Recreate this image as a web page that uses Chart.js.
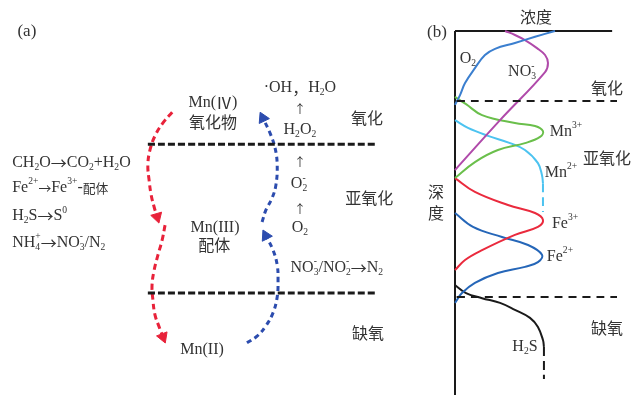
<!DOCTYPE html>
<html>
<head>
<meta charset="utf-8">
<script src="https://cdn.jsdelivr.net/npm/chart.js@4"></script>
<style>
  html, body { margin: 0; padding: 0; background: #fff; }
  #wrap { position: relative; width: 633px; height: 395px; }
  .panel { position: absolute; top: 0; height: 395px; }
  #panelA { left: 0; width: 420px; }
  #panelB { left: 420px; width: 213px; }
</style>
</head>
<body>
<div id="wrap">
  <div class="panel" id="panelA"><canvas id="chartA"></canvas></div>
  <div class="panel" id="panelB"><canvas id="chartB"></canvas></div>
</div>
<script>
// ---------- (a) 锰循环示意 (x: 0-100 横向, y: 0-100 向下) ----------
const boundaryOxic = [[35.2, 36.5], [89.8, 36.5]];
const boundaryAnoxic = [[35.2, 74.2], [89.8, 74.2]];
// Mn(IV) -> Mn(III) -> Mn(II)  还原
const reduceUpper = [[41.0,28.4],[38.8,31.1],[36.9,34.4],[35.7,38.0],[35.2,41.8],[35.5,45.6],[36.0,49.4],[36.7,52.4],[37.4,54.9]];
const reduceLower = [[39.3,57.0],[38.6,60.8],[37.6,64.6],[36.7,68.4],[36.2,72.2],[36.4,75.9],[36.9,79.7],[37.9,82.8],[38.8,85.3]];
// Mn(II) -> Mn(III) -> Mn(IV)  氧化
const oxidLower = [[58.8,86.8],[61.2,85.1],[63.3,82.5],[65.0,79.2],[66.0,75.2],[66.2,70.9],[66.0,67.1],[65.0,63.3],[63.3,59.7]];
const oxidUpper = [[62.4,56.2],[63.3,53.2],[64.8,50.1],[65.7,46.8],[66.0,41.8],[65.5,37.5],[64.3,33.7],[62.6,29.9]];

const labelsA = [
  { text: '(a)', x: 6.4, y: 8.1, size: 17 },
  { text: 'CH_2O→CO_2+H_2O', x: 2.9, y: 41.3, align: 'left', size: 16 },
  { text: 'Fe^{2+}→Fe^{3+}-配体', x: 2.9, y: 47.6, align: 'left', size: 16, cjkScale: 0.8 },
  { text: 'H_2S→S^0', x: 2.9, y: 54.7, align: 'left', size: 16 },
  { text: 'NH_4^+→NO_3^-/N_2', x: 2.9, y: 61.5, align: 'left', size: 16 },
  { text: 'Mn(Ⅳ)', x: 50.7, y: 26.0 },
  { text: '氧化物', x: 50.7, y: 30.9 },
  { text: '·OH，H_2O', x: 71.4, y: 22.3 },
  { text: '↑', x: 71.4, y: 27.6, size: 12 },
  { text: 'H_2O_2', x: 71.4, y: 32.9 },
  { text: '↑', x: 71.4, y: 41.0, size: 12 },
  { text: 'O_2^-', x: 71.2, y: 46.6 },
  { text: '↑', x: 71.4, y: 52.9, size: 12 },
  { text: 'O_2', x: 71.4, y: 57.7 },
  { text: 'NO_3^-/NO_2^-→N_2', x: 80.2, y: 67.8 },
  { text: '氧化', x: 87.4, y: 29.9 },
  { text: '亚氧化', x: 87.9, y: 50.1 },
  { text: '缺氧', x: 87.6, y: 84.3 },
  { text: 'Mn(III)', x: 51.2, y: 57.7 },
  { text: '配体', x: 51.0, y: 62.0 },
  { text: 'Mn(II)', x: 48.1, y: 88.6 }
];

// ---------- (b) 浓度-深度剖面 (x: 浓度 0-100, y: 深度 0-100) ----------
const axisTop = [[0, 0], [97, 0]];
const axisLeft = [[0, 0], [0, 100]];
const zoneOxic = [[1, 19.2], [100, 19.2]];
const zoneAnoxic = [[1, 73.1], [100, 73.1]];
const o2Profile = [[0,20.3],[3.1,17.6],[6.2,14.3],[12.3,10.2],[18.5,6.6],[24.7,4.9],[37.0,3.3],[49.4,1.6],[61.7,0]];
const no3Profile = [[30.9,0],[37.0,1.1],[43.2,2.5],[50.6,4.7],[55.6,6.6],[57.4,8.8],[55.6,11.3],[27.8,24.5],[0,38.2]];
const mn3Profile = [[0,18.1],[6.8,20.1],[16.7,23.1],[37.0,25.3],[49.4,26.1],[54.3,27.5],[52.5,29.1],[43.2,30.8],[26.5,32.7],[12.3,36.0],[0,40.4]];
const mn2Profile = [[0,24.5],[8.0,26.6],[20.4,28.8],[34.0,30.8],[43.2,32.7],[51.2,36.3],[53.7,39.6],[54.3,41.8]];
const mn2Tail = [[54.3,41.8],[54.3,49.7]];
const fe3Profile = [[0,40.4],[12.3,44.2],[32.7,47.8],[49.4,50.0],[54.3,51.9],[51.2,53.8],[37.0,56.0],[16.7,60.2],[6.2,62.9],[0,65.7]];
const fe2Profile = [[0,50.0],[11.1,53.8],[29.0,56.6],[45.1,58.8],[53.7,61.5],[51.2,63.5],[43.2,64.8],[26.5,66.5],[12.3,69.2],[4.3,72.0],[0,74.7]];
const h2sProfile = [[0,69.8],[6.8,72.0],[16.7,73.4],[27.8,74.7],[37.0,76.6],[46.3,78.8],[51.2,81.3],[54.3,84.9],[54.9,86.8]];
const h2sTail = [[54.9,86.8],[54.9,95.6]];

const labelsB = [
  { text: '(b)', x: -11.1, y: 0.3, size: 17 },
  { text: '浓度', x: 50.0, y: -3.8 },
  { text: 'O_2', x: 8.0, y: 7.7 },
  { text: 'NO_3^-', x: 41.4, y: 11.3 },
  { text: '氧化', x: 93.8, y: 15.7 },
  { text: 'Mn^{3+}', x: 68.5, y: 27.7 },
  { text: '亚氧化', x: 93.8, y: 34.9 },
  { text: 'Mn^{2+}', x: 65.4, y: 39.0 },
  { text: '深', x: -11.7, y: 44.2 },
  { text: '度', x: -11.7, y: 50.0 },
  { text: 'Fe^{3+}', x: 67.9, y: 53.0 },
  { text: 'Fe^{2+}', x: 64.8, y: 62.1 },
  { text: '缺氧', x: 93.8, y: 81.6 },
  { text: 'H_2S', x: 43.2, y: 86.8 }
];

const textColor = '#333333';
const latinFont = '"Liberation Serif", "Times New Roman", serif';
const cjkFont = '"Noto Sans CJK SC", sans-serif';
// 中文、全角符号、罗马数字和箭头用 CJK 字体
const cjkRe = /[\u2160-\u217f\u2190-\u21ff\u3000-\u9fff\uff00-\uffef]/;

// 解析 _x / _{..} 下标 和 ^x / ^{..} 上标
function parseRich(str) {
  const segs = [];
  let i = 0;
  while (i < str.length) {
    const c = str[i];
    if (c === '_' || c === '^') {
      let t;
      if (str[i + 1] === '{') {
        const j = str.indexOf('}', i);
        t = str.slice(i + 2, j);
        i = j + 1;
      } else {
        t = str[i + 1];
        i += 2;
      }
      segs.push({ t, mode: c === '_' ? 'sub' : 'sup' });
    } else {
      let j = i;
      while (j < str.length && str[j] !== '_' && str[j] !== '^') j++;
      segs.push({ t: str.slice(i, j), mode: 'n' });
      i = j;
    }
  }
  return segs;
}

function splitRuns(t) {
  const runs = [];
  for (const ch of t) {
    const cjk = cjkRe.test(ch);
    if (runs.length && runs[runs.length - 1].cjk === cjk) runs[runs.length - 1].t += ch;
    else runs.push({ t: ch, cjk });
  }
  return runs;
}

function layoutRich(ctx, segs, size, cjkScale) {
  const items = [];
  let x = 0;
  let prev = null;
  segs.forEach(s => {
    const fs = s.mode === 'n' ? size : size * 0.6;
    const dy = s.mode === 'sub' ? size * 0.3 : s.mode === 'sup' ? -size * 0.38 : 0;
    // 上下标叠放
    const stacked = prev && prev.mode !== 'n' && s.mode !== 'n' && prev.mode !== s.mode;
    const startX = stacked ? prev.x0 : x;
    let cx = startX;
    splitRuns(s.t).forEach(r => {
      const font = r.cjk ? `${fs * cjkScale}px ${cjkFont}` : `${fs}px ${latinFont}`;
      ctx.font = font;
      items.push({ t: r.t, font, x: cx, dy });
      cx += ctx.measureText(r.t).width;
    });
    x = stacked ? Math.max(x, cx) : cx;
    prev = { mode: s.mode, x0: startX };
  });
  return { items, width: x };
}

function makeLabelPlugin(labels) {
  return {
    id: 'richLabels',
    afterDatasetsDraw(chart) {
      const { ctx, scales: { x, y } } = chart;
      ctx.save();
      ctx.fillStyle = textColor;
      ctx.textBaseline = 'middle';
      ctx.textAlign = 'left';
      labels.forEach(l => {
        const px = x.getPixelForValue(l.x);
        const py = y.getPixelForValue(l.y);
        const lay = layoutRich(ctx, parseRich(l.text), l.size || 16, l.cjkScale || 1);
        const ox = l.align === 'left' ? px : px - lay.width / 2;
        lay.items.forEach(it => {
          ctx.font = it.font;
          ctx.fillText(it.t, ox + it.x, py + it.dy);
        });
      });
      ctx.restore();
    }
  };
}

function curve(points, color, width, dash) {
  return {
    data: points.map(([x, y]) => ({ x, y })),
    showLine: true,
    borderColor: color,
    borderWidth: width,
    borderDash: dash || [],
    pointRadius: 0,
    pointHoverRadius: 0,
    tension: 0.4,
    fill: false,
    clip: false
  };
}

function arrow(points, color, dash) {
  const ds = curve(points, color, 3, dash);
  const last = points.length - 1;
  ds.pointStyle = 'triangle';
  ds.pointRadius = c => (c.dataIndex === last ? 6.5 : 0);
  ds.pointBackgroundColor = color;
  ds.pointBorderColor = color;
  ds.pointBorderWidth = 1;
  ds.pointRotation = c => {
    if (c.dataIndex !== last) return 0;
    const { x, y } = c.chart.scales;
    const a = points[last], b = points[last - 1];
    const dx = x.getPixelForValue(a[0]) - x.getPixelForValue(b[0]);
    const dy = y.getPixelForValue(a[1]) - y.getPixelForValue(b[1]);
    return Math.atan2(dx, -dy) * 180 / Math.PI;
  };
  return ds;
}

function baseOptions(padding) {
  return {
    responsive: true,
    maintainAspectRatio: false,
    animation: false,
    events: [],
    layout: { padding, autoPadding: false },
    plugins: { legend: { display: false }, tooltip: { enabled: false } },
    scales: {
      x: { type: 'linear', min: 0, max: 100, display: false },
      y: { type: 'linear', min: 0, max: 100, reverse: true, display: false }
    }
  };
}

const redArrow = '#e8223a';
const blueArrow = '#2c4cae';

new Chart(document.getElementById('chartA'), {
  type: 'scatter',
  data: {
    datasets: [
      curve(boundaryOxic, '#1a1a1a', 3, [7, 3]),
      curve(boundaryAnoxic, '#1a1a1a', 3, [7, 3]),
      arrow(reduceUpper, redArrow, [6, 4]),
      arrow(reduceLower, redArrow, [6, 4]),
      arrow(oxidLower, blueArrow, [5, 4]),
      arrow(oxidUpper, blueArrow, [5, 4])
    ]
  },
  options: baseOptions(0),
  plugins: [makeLabelPlugin(labelsA)]
});

new Chart(document.getElementById('chartB'), {
  type: 'scatter',
  data: {
    datasets: [
      curve(zoneOxic, '#1a1a1a', 2, [8, 6]),
      curve(zoneAnoxic, '#1a1a1a', 2, [8, 6]),
      curve(o2Profile, '#3b7fcf', 2),
      curve(no3Profile, '#b04aaa', 2),
      curve(mn3Profile, '#6abf4b', 2),
      curve(mn2Profile, '#4cc3f0', 2),
      curve(mn2Tail, '#4cc3f0', 2, [9, 5]),
      curve(fe3Profile, '#ea2a3d', 2),
      curve(fe2Profile, '#2566b8', 2),
      curve(h2sProfile, '#1a1a1a', 2),
      curve(h2sTail, '#1a1a1a', 2, [9, 5]),
      curve(axisTop, '#1a1a1a', 2),
      curve(axisLeft, '#1a1a1a', 2)
    ]
  },
  options: baseOptions({ left: 35, right: 16, top: 31, bottom: 0 }),
  plugins: [makeLabelPlugin(labelsB)]
});
</script>
</body>
</html>
